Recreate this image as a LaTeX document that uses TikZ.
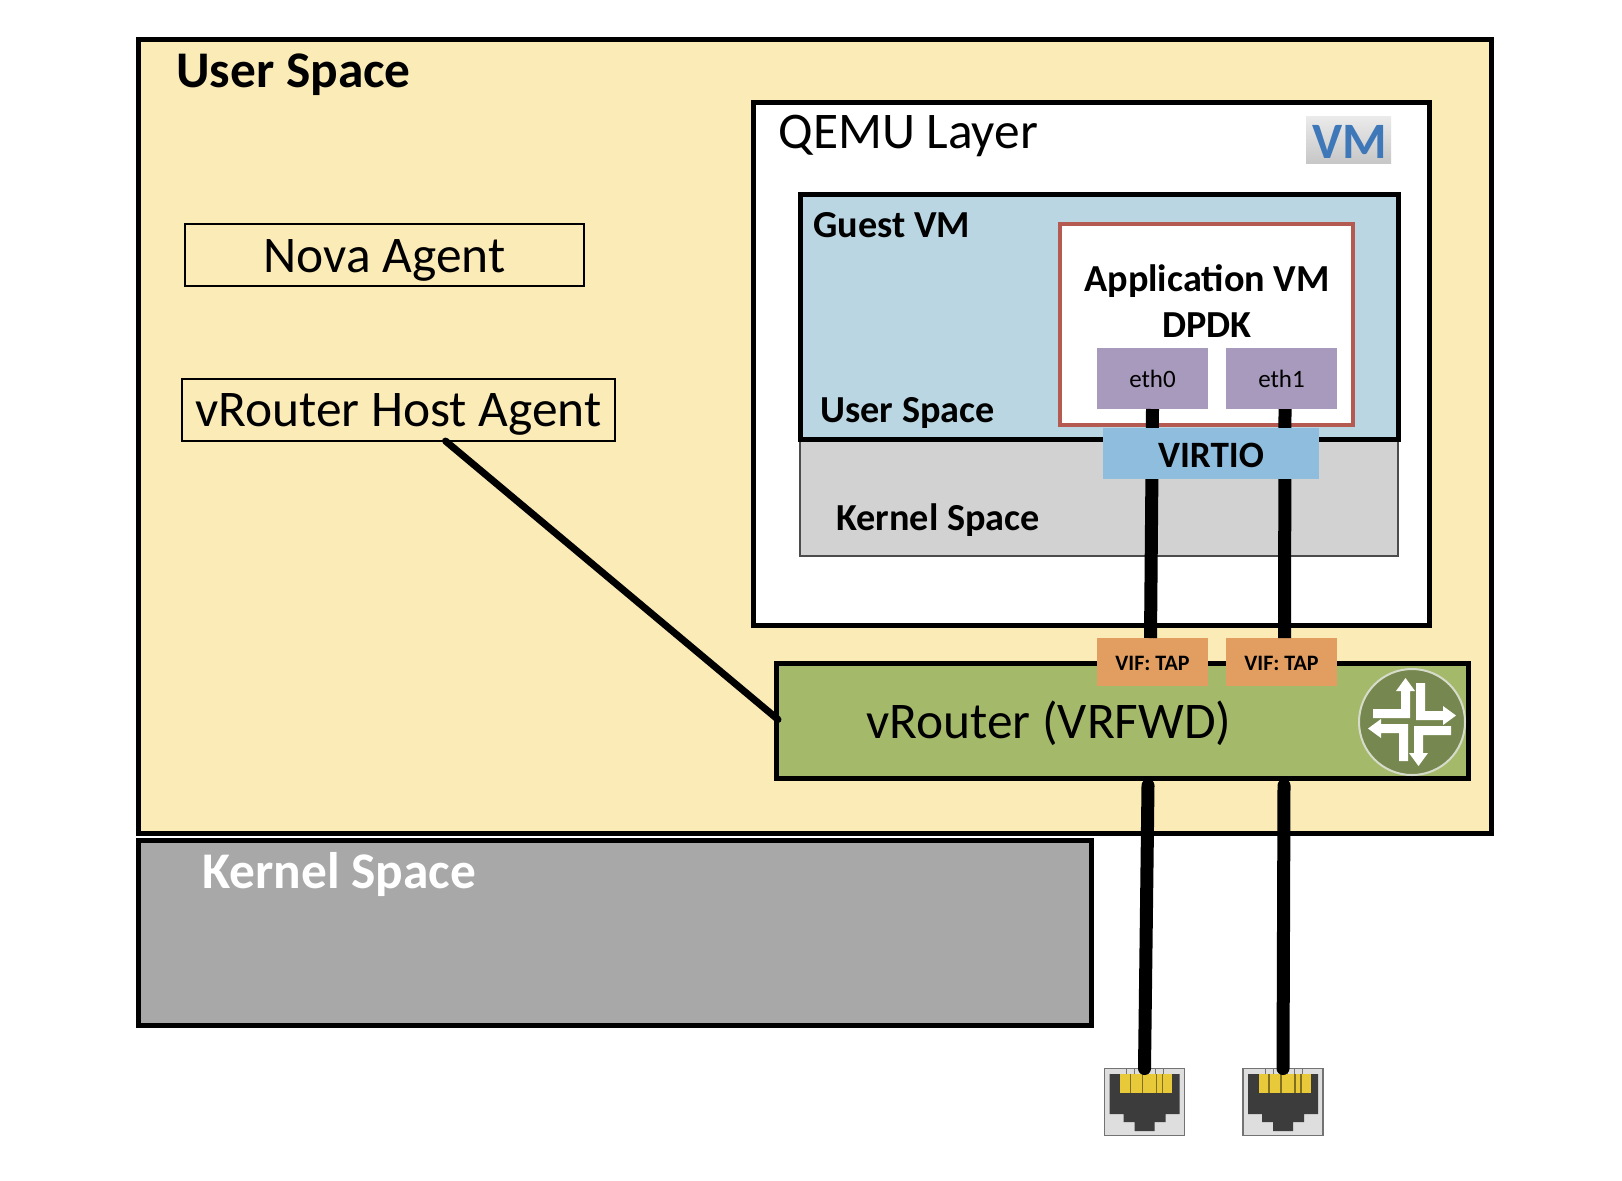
\documentclass[tikz,border=0pt]{standalone}
\usepackage{fontspec}
\setmainfont{Carlito}
\usetikzlibrary{positioning}

\definecolor{userfill}{HTML}{FAEBB7}
\definecolor{guestfill}{HTML}{BAD6E2}
\definecolor{kernfill}{HTML}{D2D2D2}
\definecolor{hostfill}{HTML}{A8A8A8}
\definecolor{vrfill}{HTML}{A5B96B}
\definecolor{logofill}{HTML}{76884F}
\definecolor{viffill}{HTML}{E29E60}
\definecolor{ethfill}{HTML}{A89ABD}
\definecolor{virtiofill}{HTML}{8FBDDD}
\definecolor{appline}{HTML}{B55A50}
\definecolor{vmblue}{HTML}{3F78B8}
\definecolor{plugdark}{HTML}{3C3C3C}
\definecolor{pluggold}{HTML}{E8C93A}

\begin{document}
\begin{tikzpicture}[
    x=0.5pt, y=-0.5pt,
    size/.style 2 args={minimum width=#1*0.5pt, minimum height=#2*0.5pt, inner sep=0pt, outer sep=0pt, rectangle},
    heavy/.style={draw=black, line width=2.5pt},
    light/.style={draw=black, line width=0.8pt},
    title/.style={inner sep=0pt, font=\fontsize{25.7}{30}\selectfont},
    bigbold/.style={inner sep=0pt, font=\fontsize{25.7}{30}\selectfont\bfseries},
    midbold/.style={inner sep=0pt, font=\fontsize{19.1}{22}\selectfont\bfseries},
    port/.style={size={111}{61}, fill=ethfill, font=\fontsize{12.5}{14}\selectfont},
    vif/.style={size={111}{48}, fill=viffill, font=\fontsize{11}{13}\selectfont\bfseries},
    wire/.style={line width=6.5pt, draw=black},
    jack/.style={size={80}{67}, fill=black!13, draw=black!55, line width=0.6pt},
    rjplug/.pic={
        \fill[plugdark] (-35,-28) -- (35,-28) -- (35,12) -- (21,12) -- (21,20) -- (10,20) -- (10,29)
            -- (-10,29) -- (-10,20) -- (-21,20) -- (-21,12) -- (-35,12) -- cycle;
        \fill[pluggold] (-24.5,-28) rectangle (27.5,-9);
        \foreach \i in {-18,-10,-3,4,11,19}
            \draw[black!55, line width=0.4pt] (\i,-34) -- (\i,-28);
        \foreach \i in {-15,-3,11,17}
            \fill[black!45!pluggold] (\i,-28) rectangle ++(1.5,19);
    },
    junosmark/.pic={
        \foreach \a in {0,90,180,270}
            \fill[white, rotate=\a] (4,-39) -- (13,-39) -- (13,-11) -- (31,-11) -- (31,-16)
                -- (44,-6.5) -- (31,3) -- (31,-2) -- (4,-2) -- cycle;
    }
]
    \useasboundingbox (0,0) rectangle (1622,1180);

    % outer areas
    \node[size={1353}{794}, fill=userfill, heavy] (userbox) at (814.5,436) {};
    \node[size={953}{185}, fill=hostfill, heavy] (hostbox) at (614.5,932.5) {};
    \node[size={676}{523}, fill=white, heavy] (qemu) at (1091,363.5) {};
    \node[size={598}{117}, fill=kernfill, draw=black!70, line width=0.6pt] (guestkern) at (1099,497.5) {};
    \node[size={598}{245}, fill=guestfill, heavy] (guest) at (1099,316.5) {};
    \node[size={293}{201}, fill=white, draw=appline, line width=2pt] (appvm) at (1206.5,324.5) {};
    \node[size={85}{47}, top color=black!8, bottom color=black!22] (vmlogo) at (1348.5,139.5) {};
    \node[font=\fontsize{25.5}{28}\selectfont\bfseries, text=vmblue, inner sep=0pt] (vmtext) at (1350,142) {VM};

    % agents
    \node[size={399}{62}, light] (nova) at (384.5,255) {};
    \node[size={433}{62}, light] (hostagent) at (398.5,410) {};

    % vrouter
    \node[size={692}{115}, fill=vrfill, heavy] (vrouter) at (1122,720.5) {};
    \node[port] (eth0) at (1152.5,378.5) {eth0};
    \node[port] (eth1) at (1281.5,378.5) {eth1};
    \node[vif] (vif0) at (1152.5,662) {\rule{0pt}{8.1pt}VIF: TAP};
    \node[vif] (vif1) at (1281.5,662) {\rule{0pt}{8.1pt}VIF: TAP};
    \node[circle, minimum size=53pt, inner sep=0pt, fill=logofill, draw=white!70!logofill, line width=1pt] (junos) at (1412,722) {};
    \pic at (junos) {junosmark};

    % jacks
    \node[jack] (jack0) at (1144.5,1102) {};
    \node[jack] (jack1) at (1283,1102) {};
    \pic at (jack0) {rjplug};
    \pic at (jack1) {rjplug};

    % wires
    \draw[wire] (eth0.south) -- ([xshift=-1pt]vif0.north);
    \draw[wire] ([xshift=1.75pt]eth1.south) -- ([xshift=1.5pt]vif1.north);
    \draw[wire, line cap=round] ([xshift=13pt,yshift=-3.75pt]vrouter.south) -- (jack0.north);
    \draw[wire, line cap=round] ([xshift=81pt,yshift=-3.75pt]vrouter.south) -- (jack1.north);
    \draw[line width=3.5pt, line cap=round] ([xshift=23.5pt]hostagent.south) -- ([xshift=1pt,yshift=0.5pt]vrouter.west);

    \node[size={216}{51}, fill=virtiofill, font=\fontsize{18.6}{20}\selectfont\bfseries] (virtio) at (1211,453.5) {\rule{0pt}{14pt}VIRTIO};

    % labels
    \node[bigbold, anchor=west] (usertext) at (176,75) {User Space};
    \node[bigbold, anchor=west, text=white] (hosttext) at (202,874) {Kernel Space};
    \node[title, anchor=west] (qemutext) at (778,136) {QEMU Layer};
    \node[title, yshift=-2.5pt] (novatext) at (nova) {Nova Agent};
    \node[title, yshift=-2pt] (hostagenttext) at (hostagent) {vRouter Host Agent};
    \node[midbold, anchor=west] (guesttext) at (813,225) {Guest VM};
    \node[midbold, align=center, font=\fontsize{19.1}{23}\selectfont\bfseries] (apptext) at (1207,301) {Application VM\\DPDK};
    \node[midbold, anchor=west] (guestuser) at (820,413) {User Space};
    \node[midbold, anchor=west] (kerntext) at (836,520) {Kernel Space};
    \node[title, anchor=west] (vrtext) at (866,723) {vRouter (VRFWD)};
\end{tikzpicture}
\end{document}
